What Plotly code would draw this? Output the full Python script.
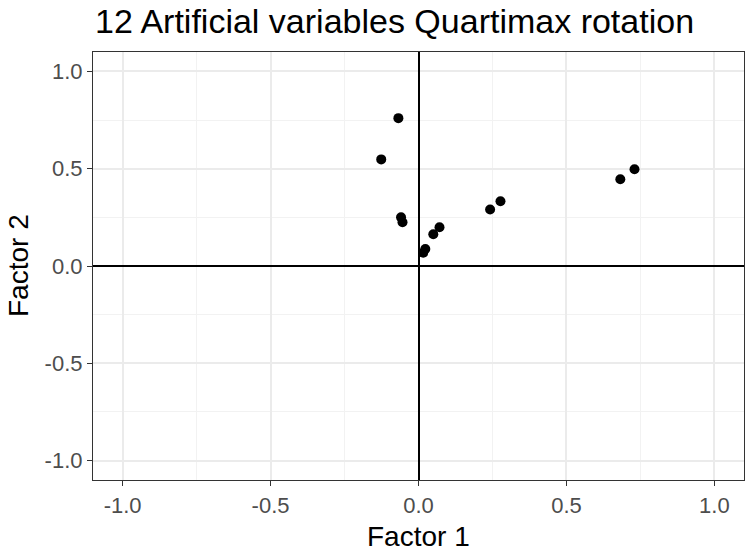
import plotly.graph_objects as go

factor1 = [0.730, 0.682, 0.242, 0.277, -0.126, -0.068, -0.059, -0.054, 0.050, 0.071, 0.023, 0.016]
factor2 = [0.497, 0.446, 0.290, 0.333, 0.548, 0.760, 0.250, 0.225, 0.163, 0.199, 0.087, 0.068]
tick_vals = [-1.0, -0.5, 0.0, 0.5, 1.0]
tick_text = ["-1.0", "-0.5", "0.0", "0.5", "1.0"]

FONT = "Liberation Sans, Arial"
W, H = 745, 551
L, R, T, B = 93, 1, 52, 71
PW, PH = W - L - R, H - T - B

def px_x(px):
    return (px - L) / PW

def px_y(py):
    return (H - py - B) / PH

fig = go.Figure()
fig.add_trace(go.Scatter(x=factor1, y=factor2, mode="markers",
                         marker=dict(color="black", size=10), showlegend=False,
                         hoverinfo="skip"))

axis_common = dict(
    tickvals=tick_vals, ticktext=tick_text,
    showgrid=True, gridcolor="#EBEBEB", gridwidth=1.5,
    minor=dict(dtick=0.25, showgrid=True, gridcolor="#F2F2F2", gridwidth=1),
    zeroline=True, zerolinecolor="black", zerolinewidth=1.6,
    showline=True, linecolor="#333333", linewidth=1.2, mirror=True,
    ticks="outside", ticklen=5, tickcolor="#333333", tickwidth=1.2,
    tickfont=dict(family=FONT, size=22, color="#4D4D4D"),
    range=[-1.1, 1.1], automargin=False,
)

fig.update_layout(
    width=W, height=H,
    margin=dict(l=L, r=R, t=T, b=B, autoexpand=False),
    paper_bgcolor="white", plot_bgcolor="white",
    xaxis=dict(**axis_common),
    yaxis=dict(**axis_common),
    annotations=[
        dict(text="12 Artificial variables Quartimax rotation", xref="paper", yref="paper",
             x=px_x(93), y=px_y(21), xanchor="left", yanchor="middle", showarrow=False,
             font=dict(family=FONT, size=34, color="black")),
        dict(text="Factor 1", xref="paper", yref="paper",
             x=0.5, y=px_y(536), xanchor="center", yanchor="middle", showarrow=False,
             font=dict(family=FONT, size=28, color="black")),
        dict(text="Factor 2", xref="paper", yref="paper", textangle=-90,
             x=px_x(18), y=0.5, xanchor="center", yanchor="middle", showarrow=False,
             font=dict(family=FONT, size=28, color="black")),
    ],
)

fig.write_html("out.html", config={"displayModeBar": False},
               post_script="document.body.style.margin='0';document.body.style.overflow='hidden';")
